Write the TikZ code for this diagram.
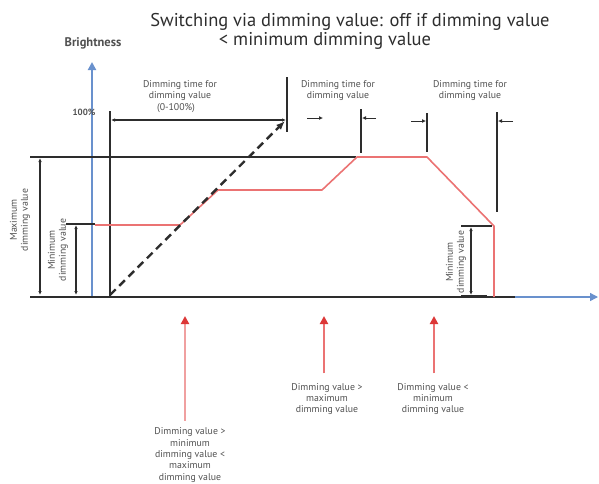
\documentclass[tikz,border=0pt]{standalone}
\usepackage{fontspec}
\setmainfont{PT Sans}
\usetikzlibrary{arrows.meta}
\definecolor{axisblue}{RGB}{105,145,205}
\definecolor{curvered}{RGB}{235,115,115}
\definecolor{tipred}{RGB}{220,55,55}
\definecolor{shaftpink}{RGB}{240,160,160}
\definecolor{darkline}{RGB}{45,45,45}
\definecolor{labelgray}{RGB}{80,80,80}

\begin{document}
\begin{tikzpicture}[x=1pt,y=-1pt,
		bar/.style={draw=darkline,line width=1.6pt},
		thinbar/.style={draw=darkline,line width=1.1pt},
		dim/.style={draw=darkline,line width=1.1pt,{Latex[length=4pt,width=3.5pt]}-{Latex[length=4pt,width=3.5pt]}},
		tickarrow/.style={draw=darkline,line width=1pt,-{Latex[length=4pt,width=4pt]}},
		curve/.style={draw=curvered,line width=1.6pt,line join=round},
		condarrow/.style={line width=2.6pt,-{Triangle[length=8pt,width=8pt,color=tipred]}},
		small/.style={font=\fontsize{9.8}{11}\selectfont,align=center,text=labelgray,inner sep=0pt},
		sidelabel/.style={small,rotate=90}]
		\useasboundingbox (0,0) rectangle (599,483);
		% title
		\node[font=\fontsize{18.5}{21}\selectfont,text=darkline] (title1) at (350,22) {Switching via dimming value: off if dimming value};
		\node[font=\fontsize{18.5}{21}\selectfont,text=darkline] (title2) at (325,41) {< minimum dimming value};
		\node[font=\fontsize{12.5}{14}\selectfont\bfseries,text=labelgray] (bright) at (93,43) {Brightness};
		% axes
		\draw[axisblue,line width=2pt,-{Triangle[length=8pt,width=8pt]}] (92,297) -- (92,62);
		\draw[axisblue,line width=1.4pt,-{Triangle[length=8pt,width=8pt]}] (92,297) -- (598,297);
		\draw[bar] (30,297) -- (515,297);
		% levels
		\draw[bar] (30,157) -- (356,157);
		\draw[bar] (66,224) -- (95,224);
		\draw[dim] (40,158) -- (40,295);
		\draw[dim] (76,225) -- (76,295);
		\draw[bar] (461,226) -- (492,226);
		\draw[bar] (461,296) -- (487,296);
		\draw[dim] (471,227) -- (471,295);
		\node[sidelabel] (maxlab) at (20,220) {Maximum\\dimming value};
		\node[sidelabel] (minlab) at (58,250) {Minimum\\dimming value};
		\node[sidelabel] (minlab2) at (456,262) {Minimum\\dimming value};
		% time markers
		\draw[bar] (110,111) -- (110,297);
		\draw[bar] (287,77) -- (287,132);
		\draw[thinbar] (361,109) -- (361,153);
		\draw[thinbar] (427,113) -- (427,152);
		\draw[bar] (497,112) -- (497,212);
		\draw[dim] (111,120) -- (286,120);
		\draw[tickarrow] (307,118) -- (323,118);
		\draw[tickarrow] (376,118) -- (362,118);
		\draw[tickarrow] (411,121) -- (426,121);
		\draw[tickarrow] (513,121) -- (498,121);
		\node[font=\fontsize{9}{10}\selectfont\bfseries,text=labelgray] (full) at (84,112) {100\%};
		\node[small] (time1) at (180,91) {Dimming time for\\dimming value};
		\node[small] (range) at (176,108) {(0-100\%)};
		\node[small] (time2) at (338,91) {Dimming time for\\dimming value};
		\node[small] (time3) at (470,91) {Dimming time for\\dimming value};
		% brightness curve
		\draw[curve] (95,225) -- (180,225) -- (218,190) -- (322,190) -- (357,157) -- (427,157) -- (491,223) -- (494,226) -- (494,297);
		\draw[darkline,line width=2.4pt,dash pattern=on 8pt off 5pt,-{Latex[length=9pt,width=7pt]}] (110,295) -- (285,121);
		% conditions
		\node[small,font=\fontsize{9.8}{11.3}\selectfont] (cond1) at (190,455) {Dimming value >\\minimum\\dimming value <\\maximum\\dimming value};
		\node[small] (cond2) at (327,399) {Dimming value >\\maximum\\dimming value};
		\node[small] (cond3) at (433,399) {Dimming value <\\minimum\\dimming value};
		\coordinate (tip1) at (185,316);
		\coordinate (tip2) at (324,316);
		\coordinate (tip3) at (434,316);
		\draw[condarrow,shaftpink,shorten <=7pt] (tip1 |- cond1.north) -- (tip1);
		\draw[condarrow,curvered,shorten <=10pt] (tip2 |- cond2.north) -- (tip2);
		\draw[condarrow,curvered,shorten <=10pt] (tip3 |- cond3.north) -- (tip3);
\end{tikzpicture}
\end{document}
